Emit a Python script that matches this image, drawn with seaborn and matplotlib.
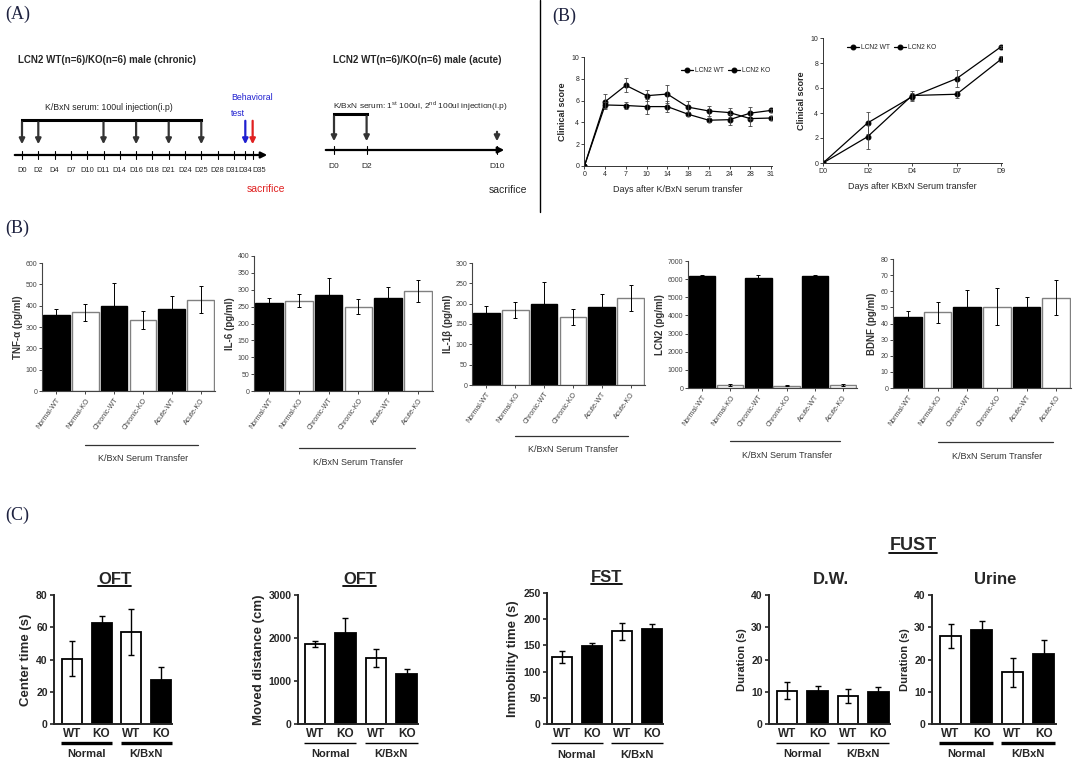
import matplotlib
matplotlib.use('Agg')
import numpy as np
import pandas as pd
import matplotlib.pyplot as plt
from matplotlib.lines import Line2D
import seaborn as sns

W, H = 1080, 784

# ---- timeline (A) ----
chronic_labels = ['D0', 'D2', 'D4', 'D7', 'D10', 'D11', 'D14', 'D16', 'D18',
                  'D21', 'D24', 'D25', 'D28', 'D31', 'D34', 'D35']
chronic_slots = [0, 1, 2, 3, 4, 5, 6, 7, 8, 9, 10, 11, 12, 13, 13.7, 14.15]
chronic_inject = ['D0', 'D2', 'D11', 'D16', 'D21', 'D25']
acute_days = [0, 2, 10]
acute_labels = ['D0', 'D2', 'D10']

# ---- clinical score (B, top) ----
chronic_x = ['0', '4', '7', '10', '14', '18', '21', '24', '28', '31']
chronic_wt = [0, 5.9, 7.4, 6.45, 6.6, 5.4, 5.05, 4.9, 4.35, 4.4]
chronic_wt_err = [0, 0.7, 0.65, 0.5, 0.85, 0.6, 0.45, 0.4, 0.65, 0.15]
chronic_ko = [0, 5.6, 5.55, 5.45, 5.45, 4.75, 4.2, 4.25, 4.85, 5.1]
chronic_ko_err = [0, 0.3, 0.3, 0.7, 0.5, 0.2, 0.2, 0.5, 0.55, 0.15]

acute_x = ['D0', 'D2', 'D4', 'D7', 'D9']
acute_wt = [0, 3.2, 5.3, 6.75, 9.3]
acute_wt_err = [0, 0.85, 0.3, 0.7, 0.1]
acute_ko = [0, 2.1, 5.4, 5.5, 8.3]
acute_ko_err = [0, 0.95, 0.35, 0.3, 0.25]

# ---- cytokines (B, bars) ----
groups = ['Normal-WT', 'Normal-KO', 'Chronic-WT', 'Chronic-KO', 'Acute-WT', 'Acute-KO']
tnf = [355, 370, 400, 333, 385, 428]
tnf_err = [30, 40, 105, 42, 62, 62]
il6 = [262, 268, 283, 250, 277, 297]
il6_err = [15, 20, 52, 22, 32, 32]
il1b = [178, 185, 200, 167, 193, 214]
il1b_err = [16, 20, 53, 20, 31, 32]
lcn2 = [6150, 150, 6080, 130, 6150, 170]
lcn2_err = [80, 50, 150, 30, 60, 50]
bdnf = [44, 47, 50.5, 50.5, 50, 56]
bdnf_err = [4, 6.5, 10, 11.5, 6.5, 11]

# ---- behaviour (C) ----
beh_groups = ['Normal WT', 'Normal KO', 'K/BxN WT', 'K/BxN KO']
beh_labels = ['WT', 'KO', 'WT', 'KO']
center_time = [40.5, 62.5, 57, 27.2]
center_time_err = [11, 4.3, 14.5, 8.3]
moved = [1860, 2120, 1530, 1165]
moved_err = [70, 340, 210, 105]
immob = [128, 148, 177, 181]
immob_err = [12, 7, 16, 9]
dw = [10.3, 10.1, 8.6, 9.9]
dw_err = [2.7, 1.7, 2.1, 1.6]
urine = [27.3, 29.1, 16.0, 21.8]
urine_err = [3.7, 2.9, 4.4, 4.2]

sns.set_style('white')
plt.rcParams['font.family'] = ['Liberation Sans', 'DejaVu Sans']
plt.rcParams['mathtext.fontset'] = 'custom'
plt.rcParams['mathtext.rm'] = 'Liberation Sans'
NARROW = ['Liberation Sans Narrow', 'Liberation Sans', 'DejaVu Sans']

fig = plt.figure(figsize=(W / 100, H / 100), dpi=100)


def rect(l, t, r, b):
    return [l / W, 1 - b / H, (r - l) / W, (b - t) / H]


def panel_tag(x, y, s):
    fig.text(x / W, 1 - y / H, s, fontsize=13, family='Liberation Serif',
             color='#1e2240', va='center', ha='left')


panel_tag(5, 14, '(A)')
panel_tag(552, 16, '(B)')
panel_tag(5, 228, '(B)')
panel_tag(5, 515, '(C)')
fig.add_artist(Line2D([540 / W, 540 / W], [1, 1 - 212 / H], color='black', lw=1))

# ---------------- timeline ----------------
ax_t = fig.add_axes([0, 1 - 210 / H, 540 / W, 210 / H])
ax_t.set_xlim(0, 540)
ax_t.set_ylim(210, 0)
ax_t.axis('off')

arrow_kw = dict(arrowstyle='-|>', lw=1.6, color='#333333', mutation_scale=8)
cx = {lab: 22 + 16.3 * s for lab, s in zip(chronic_labels, chronic_slots)}
# labels of the last crowded ticks are pushed apart a little
label_shift = {'D31': -2, 'D34': 0, 'D35': 7}
ax_t.text(18, 60, 'LCN2 WT(n=6)/KO(n=6) male (chronic)', family=NARROW,
          fontsize=7, fontweight='bold', va='center')
ax_t.text(45, 108, 'K/BxN serum: 100ul injection(i.p)', family=NARROW,
          fontsize=6.3, va='center')
ax_t.annotate('', xy=(270, 155), xytext=(12, 155),
              arrowprops=dict(arrowstyle='-|>', lw=1.6, color='black', mutation_scale=9))
for lab in chronic_labels:
    ax_t.plot([cx[lab], cx[lab]], [151, 159], color='black', lw=0.8)
    ax_t.text(cx[lab] + label_shift.get(lab, 0), 170, lab, family=NARROW, fontsize=5.4,
              ha='center', va='center')
ax_t.plot([cx['D0'], cx['D25']], [120, 120], color='black', lw=2.2, solid_capstyle='projecting')
for lab in chronic_inject:
    ax_t.annotate('', xy=(cx[lab], 147), xytext=(cx[lab], 119.5), arrowprops=arrow_kw)
ax_t.annotate('', xy=(cx['D34'], 147), xytext=(cx['D34'], 118),
              arrowprops=dict(arrow_kw, color='#1f1fd0'))
ax_t.annotate('', xy=(cx['D35'], 147), xytext=(cx['D35'], 118),
              arrowprops=dict(arrow_kw, color='#e02020'))
ax_t.text(231, 98, 'Behavioral', family=NARROW, fontsize=6.3, color='#2020d0', va='center')
ax_t.text(231, 114, 'test', family=NARROW, fontsize=6.3, color='#2020d0', va='center')
ax_t.text(247, 189, 'sacrifice', family=NARROW, fontsize=7.5, color='#e02020', va='center')

ax_ = {d: 334 + 16.3 * d for d in acute_days}
ax_t.text(333, 60, 'LCN2 WT(n=6)/KO(n=6) male (acute)', family=NARROW,
          fontsize=7, fontweight='bold', va='center')
ax_t.text(333, 106, 'K/BxN serum: 1$^{\\mathrm{st}}$ 100ul, 2$^{\\mathrm{nd}}$ 100ul injection(i.p)',
          family=NARROW, fontsize=6, va='center')
ax_t.annotate('', xy=(507, 150), xytext=(323, 150),
              arrowprops=dict(arrowstyle='-|>', lw=1.6, color='black', mutation_scale=9))
for d, lab in zip(acute_days, acute_labels):
    ax_t.plot([ax_[d], ax_[d]], [146, 154], color='black', lw=0.8)
    ax_t.text(ax_[d], 166, lab, family=NARROW, fontsize=6, ha='center', va='center')
ax_t.plot([ax_[0], ax_[2]], [114, 114], color='black', lw=2.2, solid_capstyle='projecting')
for d in acute_days[:2]:
    ax_t.annotate('', xy=(ax_[d], 144), xytext=(ax_[d], 113.5), arrowprops=arrow_kw)
ax_t.annotate('', xy=(ax_[10], 144), xytext=(ax_[10], 129), arrowprops=arrow_kw)
ax_t.text(ax_[10] - 8, 190, 'sacrifice', family=NARROW, fontsize=7.5, va='center')


# ---------------- clinical score lines ----------------
def score_panel(box, xlabels, wt, wt_err, ko, ko_err, xlabel, legend_anchor, xlim):
    ax = fig.add_axes(rect(*box))
    pos = np.arange(len(xlabels))
    for vals, errs, lab in [(wt, wt_err, 'LCN2 WT'), (ko, ko_err, 'LCN2 KO')]:
        sns.lineplot(x=pos, y=vals, ax=ax, color='black', lw=0.9, marker='o',
                     markersize=3.5, markeredgecolor='black', label=lab)
        ax.errorbar(pos, vals, yerr=errs, fmt='none', ecolor='#444444',
                    elinewidth=0.6, capsize=1.5, capthick=0.6)
    ax.set_xlim(*xlim)
    ax.set_ylim(0, 10)
    ax.set_yticks(range(0, 11, 2))
    ax.set_xticks(pos)
    ax.set_xticklabels(xlabels)
    ax.tick_params(axis='both', labelsize=5, length=2, width=0.6, pad=1.5, direction='out',
                   bottom=True, left=True)
    ax.set_ylabel('Clinical score', fontsize=6.5, fontweight='bold', labelpad=3)
    ax.set_xlabel(xlabel, fontsize=6.5, labelpad=5)
    sns.despine(ax=ax)
    for s in ['left', 'bottom']:
        ax.spines[s].set_linewidth(0.7)
        ax.spines[s].set_color('#333333')
    ax.legend(ncol=2, frameon=False, fontsize=4.8, loc='upper left',
              bbox_to_anchor=legend_anchor, handlelength=1.8, columnspacing=0.6,
              handletextpad=0.3, borderaxespad=0)
    return ax


score_panel((584, 57, 772, 166), chronic_x, chronic_wt, chronic_wt_err,
            chronic_ko, chronic_ko_err, 'Days after K/BxN serum transfer', (0.5, 0.93), (-0.02, 9.05))
score_panel((823, 38, 1002, 163), acute_x, acute_wt, acute_wt_err,
            acute_ko, acute_ko_err, 'Days after KBxN Serum transfer', (0.12, 0.97), (0, 4.02))


# ---------------- bar helpers ----------------
def draw_bars(ax, cats, vals, errs, fills, edges, width, elw, cap, lw):
    df = pd.DataFrame({'cat': cats, 'val': vals})
    sns.barplot(data=df, x='cat', y='val', hue='cat', order=cats, hue_order=cats,
                palette=dict(zip(cats, fills)), width=width, saturation=1,
                legend=False, ax=ax, linewidth=lw, edgecolor='black', errorbar=None)
    for p, ec in zip(ax.patches, edges):
        p.set_edgecolor(ec)
    ax.errorbar(np.arange(len(vals)), vals, yerr=errs, fmt='none', ecolor='black',
                elinewidth=elw, capsize=cap, capthick=elw)


cyto = [
    ((42, 263, 215, 391), tnf, tnf_err, 600, 100, 'TNF-\u03b1 (pg/ml)'),
    ((254, 256, 433, 391), il6, il6_err, 400, 50, 'IL-6 (pg/ml)'),
    ((472, 263, 645, 385), il1b, il1b_err, 300, 50, 'IL-1\u03b2 (pg/ml)'),
    ((688, 261, 857, 388), lcn2, lcn2_err, 7000, 1000, 'LCN2 (pg/ml)'),
    ((893, 259, 1071, 388), bdnf, bdnf_err, 80, 10, 'BDNF (pg/ml)'),
]
cyto_fill = ['black', 'white'] * 3
cyto_edge = ['black', '#808080'] * 3

for box, vals, errs, ymax, step, ylab in cyto:
    ax = fig.add_axes(rect(*box))
    draw_bars(ax, groups, vals, errs, cyto_fill, cyto_edge, 0.93, 0.7, 1.3, 1.0)
    ax.set_xlim(-0.5, 5.5)
    ax.set_ylim(0, ymax)
    ax.set_yticks(np.arange(0, ymax + 1, step))
    ax.set_xlabel('')
    ax.set_ylabel(ylab, fontsize=7, fontweight='bold', color='#333333', labelpad=2)
    ax.set_xticks(range(6))
    ax.set_xticklabels(groups, rotation=55, ha='right', rotation_mode='anchor',
                       fontsize=5, color='#444444')
    ax.tick_params(axis='y', labelsize=5, labelcolor='#444444', length=2, width=0.6,
                   pad=1.5, left=True, direction='out')
    ax.tick_params(axis='x', length=2, width=0.6, pad=2, bottom=True, direction='out')
    sns.despine(ax=ax)
    for s in ['left', 'bottom']:
        ax.spines[s].set_linewidth(0.8)
        ax.spines[s].set_color('#444444')
    tr = ax.get_xaxis_transform()
    ax.plot([1.0, 4.9], [-0.42, -0.42], transform=tr, color='#333333', lw=0.9, clip_on=False)
    ax.text(3.0, -0.53, 'K/BxN Serum Transfer', transform=tr, fontsize=6.5,
            color='#333333', ha='center', va='center')


# ---------------- behaviour ----------------
beh = [
    ((54, 595, 172, 724), center_time, center_time_err, 80, 20, 'Center time (s)',
     'OFT', True, (-0.6, 3.37), 2.4, 9.5),
    ((298, 595, 418, 724), moved, moved_err, 3000, 1000, 'Moved distance (cm)',
     'OFT', True, (-0.55, 3.37), 1.0, 9.5),
    ((547, 593, 663, 724), immob, immob_err, 250, 50, 'Immobility time (s)',
     'FST', True, (-0.5, 3.37), 1.0, 9.5),
    ((769, 595, 890, 724), dw, dw_err, 40, 10, 'Duration (s)',
     'D.W.', False, (-0.6, 3.38), 1.0, 8),
    ((932, 595, 1056, 724), urine, urine_err, 40, 10, 'Duration (s)',
     'Urine', False, (-0.6, 3.4), 2.4, 8),
]
beh_fill = ['white', 'black', 'white', 'black']
beh_edge = ['black'] * 4
underline = []

for box, vals, errs, ymax, step, ylab, title, ul, xlim, glw, ylfs in beh:
    ax = fig.add_axes(rect(*box))
    draw_bars(ax, beh_groups, vals, errs, beh_fill, beh_edge, 0.67, 1.0, 2.2, 1.3)
    ax.set_xlim(*xlim)
    ax.set_ylim(0, ymax)
    ax.set_yticks(np.arange(0, ymax + 1, step))
    ax.set_xticks(range(4))
    ax.set_xticklabels(beh_labels, fontsize=8.5, fontweight='bold')
    ax.set_xlabel('')
    ax.set_ylabel(ylab, fontsize=ylfs, fontweight='bold', labelpad=3)
    for lab in ax.get_yticklabels():
        lab.set_fontweight('bold')
    ax.tick_params(axis='y', labelsize=7.5, length=3, width=1.2, pad=1.5, left=True, direction='out')
    ax.tick_params(axis='x', length=0, pad=3)
    sns.despine(ax=ax)
    for s in ['left', 'bottom']:
        ax.spines[s].set_linewidth(1.4)
    tr = ax.get_xaxis_transform()
    for a, b, name in [(0, 1, 'Normal'), (2, 3, 'K/BxN')]:
        ax.plot([a - 0.36, b + 0.36], [-0.145, -0.145], transform=tr, color='black',
                lw=glw, clip_on=False, solid_capstyle='butt')
        ax.text((a + b) / 2, -0.235, name, transform=tr, fontsize=8, fontweight='bold',
                ha='center', va='center')
    t = ax.text(0.5 * (xlim[0] + xlim[1]) + 0.05, 1.12, title, transform=tr, fontsize=12,
                fontweight='bold', ha='center', va='center')
    if ul:
        underline.append(t)

fust = fig.text(913 / W, 1 - 545 / H, 'FUST', fontsize=13, fontweight='bold',
                ha='center', va='center')
underline.append(fust)

fig.canvas.draw()
renderer = fig.canvas.get_renderer()
for t in underline:
    bb = t.get_window_extent(renderer)
    y = (bb.y0 + 1) / H
    fig.add_artist(Line2D([bb.x0 / W, bb.x1 / W], [y, y], color='black', lw=1.3))

fig.savefig('out.png', dpi=100)
